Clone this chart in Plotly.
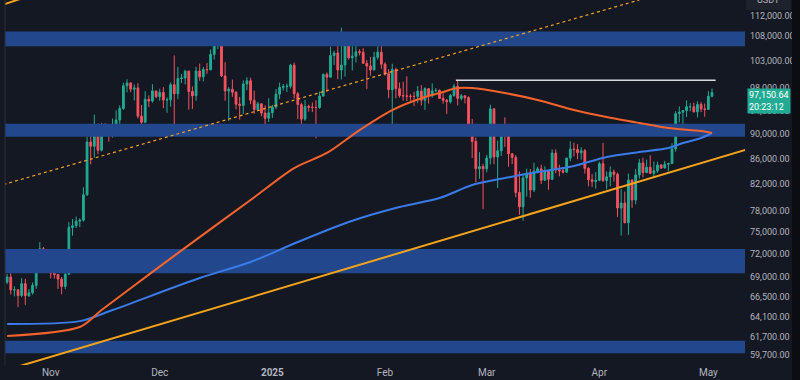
import math
import pandas as pd
import plotly.graph_objects as go

# ---------------- data (BTC/USDT daily) ----------------
start_date = "2024-10-19"
end_date = "2025-05-02"
first_open = 68370

closes = [
    # Oct 19-31
    68360, 69000, 67370, 67380, 66680, 68160, 66640, 67010, 67930, 69910, 72720, 72340, 70220,
    # Nov
    69480, 69330, 68740, 67810, 69360, 75640, 75900, 76540, 76680, 80370, 88650, 87950, 90380, 87300, 91060,
    90600, 89840, 90540, 92340, 94340, 98400, 98920, 97780, 98010, 93010, 91960, 95960, 95640, 97460, 96410,
    # Dec
    97190, 95840, 95860, 98590, 96950, 99740, 99830, 101110, 97360, 96590, 101120, 100040, 101420, 101370, 104300,
    106060, 106130, 100200, 97460, 97760, 97220, 95100, 94880, 98720, 99310, 95800, 94160, 95160, 93530, 92640, 93580,
    # Jan
    94590, 96890, 98110, 98240, 98320, 102240, 96950, 95040, 92490, 94700, 94560, 94520, 94500, 96530, 100500,
    99990, 104080, 104560, 101330, 102260, 106140, 103650, 103960, 104820, 104710, 102590, 102080, 101330, 103730, 104730, 102430,
    # Feb
    100640, 97690, 101400, 97870, 96620, 96550, 96530, 96480, 96470, 97430, 95780, 97870, 96610, 97500,
    97570, 96120, 95770, 95540, 96640, 98300, 96130, 96580, 96250, 91550, 88740, 84350, 84700, 84350,
    # Mar
    86060, 94270, 86220, 87220, 90620, 89960, 86740, 86150, 80730, 78600, 82930, 83680, 81090, 83980, 84340,
    82570, 84010, 82720, 86850, 84170, 84040, 83830, 86050, 87500, 87420, 86900, 87230, 84420, 82650, 82390, 82550,
    # Apr
    85160, 82520, 83100, 83840, 83500, 78430, 79160, 76320, 82620, 79600, 83400, 85280, 83760, 84590, 83640,
    84030, 84950, 84470, 85060, 85170, 87520, 93440, 93700, 93980, 94640, 94650, 93750, 95040, 94260, 94170,
    # May
    96490, 97150.64,
]
highs = [
    68690, 69400, 69500, 67830, 67470, 68850, 68770, 67450, 68300, 70270, 73620, 72960, 72700,
    71630, 70000, 69380, 69000, 70540, 76400, 76850, 77200, 76940, 81500, 89530, 89940, 93260, 91760, 91850,
    91800, 91450, 92600, 94000, 94900, 98980, 99590, 98990, 98650, 98870, 94970, 97400, 96650, 98690, 97460,
    97840, 98150, 96300, 99000, 104090, 101900, 100550, 101350, 101220, 98270, 101900, 102540, 101900, 102650, 105250,
    107780, 108350, 106500, 102800, 98150, 99540, 97400, 96400, 99400, 99960, 99880, 97500, 95500, 95200, 94900, 96150,
    95000, 97800, 98980, 98730, 98810, 102480, 102720, 97250, 95350, 95830, 95000, 95400, 95800, 97350, 100680,
    100870, 105800, 104990, 106300, 109590, 107240, 106400, 106850, 107100, 105290, 105500, 103200, 103800, 104800, 106460, 106010,
    102780, 101460, 102500, 101750, 99000, 99140, 100140, 96880, 97320, 98350, 98500, 98120, 98000, 98830,
    97970, 97730, 97050, 96000, 96890, 98760, 99500, 96900, 96670, 96500, 92530, 89400, 87000, 85120,
    86560, 95000, 94420, 88900, 90990, 92810, 91200, 86850, 86500, 83950, 83620, 84360, 84300, 85310, 84670,
    85000, 84730, 84000, 87450, 87440, 85000, 84570, 86090, 88760, 88540, 88290, 87800, 87500, 84570, 83540, 83870,
    85490, 88500, 83940, 84720, 84230, 83750, 81240, 80870, 83590, 82700, 84280, 85900, 86100, 85800, 86500,
    85500, 85470, 85100, 85600, 85300, 88460, 93870, 94700, 94000, 95760, 95300, 95350, 95600, 95460, 95220,
    97420, 97900,
]
lows = [
    68000, 68100, 66800, 66570, 65260, 66460, 65520, 66500, 66800, 67500, 69700, 71440, 69680,
    68820, 68800, 67480, 66830, 67460, 69300, 74500, 75570, 75700, 76490, 80220, 85070, 86130, 86670, 87100,
    90000, 88720, 89380, 90400, 91500, 94100, 97200, 97230, 95750, 92600, 90800, 91820, 94600, 95360, 96160,
    95690, 94400, 93580, 94660, 90500, 95980, 98900, 98650, 94150, 94250, 95700, 99310, 99200, 100600, 101230,
    103300, 105320, 100000, 95700, 92170, 96400, 94200, 92400, 93400, 97600, 95100, 93400, 94010, 93000, 91300, 92000,
    92700, 94200, 96000, 97500, 97260, 97900, 96100, 92500, 91200, 92200, 93800, 93700, 89250, 94300, 96500,
    97300, 99950, 102280, 99600, 99550, 100100, 103300, 101260, 102750, 104100, 102500, 97780, 100270, 101300, 103300, 101550,
    100280, 96150, 91230, 96150, 96250, 95700, 95650, 95700, 94750, 95250, 94870, 94090, 95200, 96250,
    97220, 96050, 95200, 93400, 95200, 96400, 94870, 95770, 95250, 91370, 86050, 82260, 82800, 78260,
    83800, 85050, 85080, 81400, 86380, 87850, 84670, 85100, 80000, 77460, 76600, 80100, 79940, 80800, 83630,
    82000, 82470, 81140, 82600, 83650, 83180, 83630, 83780, 85550, 86310, 85860, 85800, 83600, 81640, 81560, 81290,
    82430, 82320, 81190, 81660, 82370, 77150, 74510, 76240, 74620, 78460, 78970, 82800, 83030, 83680, 83600,
    83110, 83740, 84300, 84400, 83950, 85140, 87080, 91930, 91660, 92860, 93860, 93650, 92800, 93700, 92900,
    94130, 96320,
]

# moving averages
ma_orange_dates = ["2024-10-20", "2024-11-09", "2024-11-15", "2024-11-28", "2024-12-12", "2024-12-26",
                   "2025-01-07", "2025-01-16", "2025-01-25", "2025-02-03", "2025-02-12", "2025-02-16",
                   "2025-02-21", "2025-02-25", "2025-03-06", "2025-03-15", "2025-03-25", "2025-04-03",
                   "2025-04-12", "2025-04-20", "2025-04-29", "2025-05-02"]
ma_orange_values = [61850, 62890, 64900, 69310, 74310, 79600, 84470, 86860, 90640, 94070, 96380, 97080,
                    97990, 97990, 97080, 95840, 94070, 92850, 91830, 90980, 90480, 90140]
ma_blue_dates = ["2024-10-20", "2024-11-09", "2024-11-18", "2024-12-12", "2024-12-26", "2025-01-08",
                 "2025-01-22", "2025-02-05", "2025-02-16", "2025-02-25", "2025-03-06", "2025-03-15",
                 "2025-03-25", "2025-04-03", "2025-04-12", "2025-04-20", "2025-04-24", "2025-04-29", "2025-05-02"]
ma_blue_values = [63240, 63580, 64900, 68870, 70950, 73630, 76420, 78570, 79890, 81840, 82910, 83840,
                  84780, 86210, 87020, 87660, 88480, 89310, 90140]

# support / resistance zones (low, high)
zones = [(105900, 108800), (89500, 91700), (69500, 72700), (59900, 61300)]

# trend lines (two anchor points each)
support_line_dates = ["2024-10-23 12:00", "2025-05-12"]
support_line_prices = [58500, 87500]
channel_dotted_dates = ["2024-10-19", "2025-04-12"]
channel_dotted_prices = [81930, 115400]
channel_top_dates = ["2024-10-18", "2024-10-25"]
channel_top_prices = [114160, 115960]
resistance_dates = ["2025-02-20 12:00", "2025-05-03"]
resistance_prices = [99400, 99400]

last_price = 97150.64
last_price_text = "97,150.64"
countdown_text = "20:23:12"

y_tick_values = [112000, 108000, 103000, 98000, 94000, 90000, 86000, 82000, 78000, 75000,
                 72000, 69000, 66500, 64100, 61700, 59700]
x_tick_dates = ["2024-11-01", "2024-12-01", "2025-01-01", "2025-02-01", "2025-03-01", "2025-04-01", "2025-05-01"]
x_tick_labels = ["Nov", "Dec", "<b>2025</b>", "Feb", "Mar", "Apr", "May"]

# ---------------- figure ----------------
dates = pd.date_range(start_date, end_date, freq="D")
opens = [first_open] + closes[:-1]

BG = "#141823"
UP = "#22ab94"
DOWN = "#f7525f"
ZONE = "#22478c"
ORANGE = "#f5a31a"
TEXT = "#b2b5be"

x_range = ["2024-10-19 10:00", "2025-05-11 02:00"]
x_far = ["2024-10-01", "2025-06-01"]

fig = go.Figure()

for lo, hi in zones:
    fig.add_trace(go.Scatter(
        x=[x_far[0], x_far[1], x_far[1], x_far[0], x_far[0]],
        y=[lo, lo, hi, hi, lo], mode="lines", fill="toself",
        fillcolor=ZONE, line=dict(width=0), hoverinfo="skip", showlegend=False))

fig.add_trace(go.Candlestick(
    x=dates, open=opens, high=highs, low=lows, close=closes,
    increasing=dict(line=dict(color=UP, width=1), fillcolor=UP),
    decreasing=dict(line=dict(color=DOWN, width=1), fillcolor=DOWN),
    whiskerwidth=0, showlegend=False, hoverinfo="skip"))

fig.add_trace(go.Scatter(x=ma_blue_dates, y=ma_blue_values, mode="lines",
                         line=dict(color="#3a7bea", width=2, shape="spline", smoothing=0.8),
                         hoverinfo="skip", showlegend=False))
fig.add_trace(go.Scatter(x=ma_orange_dates, y=ma_orange_values, mode="lines",
                         line=dict(color="#f5632a", width=2, shape="spline", smoothing=0.8),
                         hoverinfo="skip", showlegend=False))

fig.add_trace(go.Scatter(x=support_line_dates, y=support_line_prices, mode="lines",
                         line=dict(color=ORANGE, width=2), hoverinfo="skip", showlegend=False))
fig.add_trace(go.Scatter(x=channel_dotted_dates, y=channel_dotted_prices, mode="lines",
                         line=dict(color=ORANGE, width=1.2, dash="dot"), hoverinfo="skip", showlegend=False))
fig.add_trace(go.Scatter(x=channel_top_dates, y=channel_top_prices, mode="lines",
                         line=dict(color=ORANGE, width=2), hoverinfo="skip", showlegend=False))
fig.add_trace(go.Scatter(x=resistance_dates, y=resistance_prices, mode="lines",
                         line=dict(color="#d8dae0", width=1.5), hoverinfo="skip", showlegend=False))

y_lo, y_hi = 58610, 115375
fig.update_layout(
    width=800, height=380,
    margin=dict(l=5, r=55, t=0, b=15),
    plot_bgcolor=BG, paper_bgcolor=BG,
    font=dict(family="Roboto, Inter, sans-serif", color=TEXT, size=9),
    xaxis=dict(type="date", range=x_range, rangeslider=dict(visible=False), automargin=False,
               showgrid=False, zeroline=False, showline=False, ticks="",
               tickvals=x_tick_dates, ticktext=x_tick_labels, ticklabelstandoff=0,
               tickfont=dict(size=10, color=TEXT)),
    yaxis=dict(type="log", side="right", range=[math.log10(y_lo), math.log10(y_hi)], automargin=False,
               showgrid=False, zeroline=False, showline=False, ticks="",
               tickvals=y_tick_values, ticktext=[f"{v:,.2f}" for v in y_tick_values],
               tickfont=dict(size=9, color=TEXT), ticklabelstandoff=4),
    showlegend=False,
)

# left frame line and right dark strip
fig.add_shape(type="line", xref="paper", yref="paper", x0=0, x1=0, y0=0, y1=1,
              line=dict(color="#2a2e39", width=1))
fig.add_shape(type="rect", xref="paper", yref="paper", x0=1.0635, x1=1.08, y0=-0.05, y1=1.0,
              fillcolor="#0b0d13", line=dict(width=0), layer="above")
# currency box at the top right
fig.add_shape(type="rect", xref="paper", yref="paper", x0=1.0015, x1=1.062, y0=1 - 10 / 365, y1=1.0,
              fillcolor="#1e222d", line=dict(width=0), layer="above")
fig.add_annotation(xref="paper", yref="paper", x=1.032, y=1.0, yanchor="middle", xanchor="center",
                   text="USDT", showarrow=False, font=dict(size=9, color=TEXT))

# last price label
fig.add_annotation(xref="paper", yref="paper", x=1.0027, y=1 - 88 / 365, xanchor="left", yanchor="top",
                   text=f"{last_price_text}<br>{countdown_text}", showarrow=False, align="left",
                   bgcolor=UP, borderpad=1, font=dict(size=9, color="#ffffff"))

fig.write_html(
    "out.html",
    config={"displayModeBar": False, "staticPlot": True},
    post_script="document.body.style.margin='0';document.body.style.padding='0';"
                "document.body.style.background='#141823';document.body.style.overflow='hidden';",
)
